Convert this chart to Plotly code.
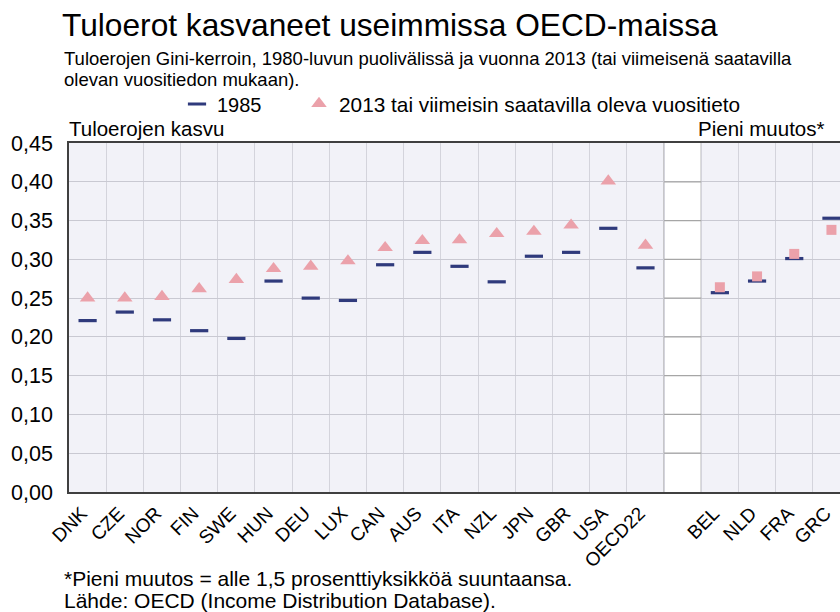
import plotly.graph_objects as go

# ---- data ----
cats_left = ["DNK", "CZE", "NOR", "FIN", "SWE", "HUN", "DEU", "LUX", "CAN",
             "AUS", "ITA", "NZL", "JPN", "GBR", "USA", "OECD22"]
gini_1985_left = [0.221, 0.232, 0.222, 0.208, 0.198, 0.272, 0.250, 0.247, 0.293,
                  0.309, 0.291, 0.271, 0.304, 0.309, 0.340, 0.289]
gini_2013_left = [0.250, 0.250, 0.252, 0.262, 0.274, 0.288, 0.291, 0.298, 0.315,
                  0.324, 0.325, 0.333, 0.336, 0.344, 0.401, 0.318]

gap_cat = " "
cats_right = ["BEL", "NLD", "FRA", "GRC"]
gini_1985_right = [0.257, 0.272, 0.301, 0.353]
gini_2013_right = [0.264, 0.278, 0.307, 0.338]

y_ticks = [0.00, 0.05, 0.10, 0.15, 0.20, 0.25, 0.30, 0.35, 0.40, 0.45]

title_text = "Tuloerot kasvaneet useimmissa OECD-maissa"
subtitle_lines = ["Tuloerojen Gini-kerroin, 1980-luvun puolivälissä ja vuonna 2013 (tai viimeisenä saatavilla",
                  "olevan vuositiedon mukaan)."]
label_left = "Tuloerojen kasvu"
label_right = "Pieni muutos*"
footer_lines = ["*Pieni muutos = alle 1,5 prosenttiyksikköä suuntaansa.",
                "Lähde: OECD (Income Distribution Database)."]
name_1985 = "1985"
name_2013 = "2013 tai viimeisin saatavilla oleva vuositieto"

all_cats = cats_left + [gap_cat] + cats_right

# ---- styles ----
FONT = "Liberation Sans, Arial, sans-serif"
NAVY = "#2F3A7C"
PINK = "#EBA1AA"
BG = "#F2F2F8"
GRID = "#C9C9D2"
DARK = "#404040"

# page body margin is removed (post_script), so figure pixels == page pixels
W, H = 840, 612
L, T = 69, 143
B = H - 492
plot_h = H - T - B
plot_w = W - L

def py(p):  # page pixel y -> paper y
    return (H - B - p) / plot_h

def px(p):  # page pixel x -> paper x
    return (p - L) / plot_w

fig = go.Figure()

fig.add_trace(go.Scatter(
    x=cats_left, y=gini_1985_left, mode="markers", name=name_1985, legend="legend",
    marker=dict(symbol="line-ew", size=13, line=dict(width=3.2, color=NAVY)),
))
fig.add_trace(go.Scatter(
    x=cats_left, y=gini_2013_left, mode="markers", name=name_2013, legend="legend2",
    marker=dict(symbol="triangle-up", size=13.5, color=PINK, line=dict(width=0)),
))
fig.add_trace(go.Scatter(
    x=cats_right, y=gini_1985_right, mode="markers", name=name_1985, showlegend=False,
    marker=dict(symbol="line-ew", size=13, line=dict(width=3.2, color=NAVY)),
))
fig.add_trace(go.Scatter(
    x=cats_right, y=gini_2013_right, mode="markers", name=name_2013, showlegend=False,
    marker=dict(symbol="square", size=10, color=PINK, line=dict(width=0)),
))

gap_idx = all_cats.index(gap_cat)
shapes = [dict(type="rect", xref="x", yref="paper", x0=gap_idx - 0.5, x1=gap_idx + 0.5,
               y0=0, y1=1, fillcolor="white", line=dict(width=0), layer="below")]
for v in y_ticks[1:-1]:
    shapes.append(dict(type="line", xref="x", yref="y", x0=gap_idx - 0.5, x1=gap_idx + 0.5,
                       y0=v, y1=v, line=dict(color="#A6A6A6", width=1.3), layer="between"))
for xv in (gap_idx - 0.5, gap_idx + 0.5):
    shapes.append(dict(type="line", xref="x", yref="paper", x0=xv, x1=xv, y0=0, y1=1,
                       line=dict(color="#A6A6A6", width=1.3), layer="between"))

def note(text, x, y, size, xanchor="left"):
    return dict(text=text, xref="paper", yref="paper", x=px(x), y=py(y),
                xanchor=xanchor, yanchor="middle", align="left", showarrow=False,
                font=dict(size=size, color="black", family=FONT))

annotations = [
    note(subtitle_lines[0], 62, 58, 18.5),
    note(subtitle_lines[1], 62, 80, 18.5),
    note(label_left, 67, 128, 20.5),
    note(label_right, 827, 128, 20.5, xanchor="right"),
    note(footer_lines[0], 62, 578, 21),
    note(footer_lines[1], 62, 600, 21),
]

legend_common = dict(orientation="h", yanchor="middle", xanchor="left",
                     bgcolor="rgba(0,0,0,0)", itemwidth=30, borderwidth=0)

fig.update_layout(
    width=W, height=H,
    margin=dict(l=L, r=0, t=T, b=B, autoexpand=False),
    paper_bgcolor="white", plot_bgcolor=BG,
    separators=", ",
    font=dict(family=FONT, color="black"),
    title=dict(text=title_text, x=62 / W, xref="container", xanchor="left",
               y=1 - 25 / H, yref="container", yanchor="middle",
               pad=dict(l=0, r=0, t=0, b=0),
               font=dict(size=31.7, color="black", family=FONT)),
    showlegend=True,
    legend=dict(x=px(177), y=py(104), font=dict(size=20, color="black", family=FONT),
                **legend_common),
    legend2=dict(x=px(299), y=py(104), font=dict(size=20.8, color="black", family=FONT),
                 **legend_common),
    xaxis=dict(type="category", categoryorder="array", categoryarray=all_cats,
               range=[-0.5, 20.23], tickson="boundaries", showgrid=True,
               gridcolor="#D4D4DC", gridwidth=1, ticks="", tickangle=-45,
               tickfont=dict(size=19, color="black", family=FONT),
               ticklabelstandoff=1, ticklabelshift=-6, automargin=False,
               showline=True, linecolor=DARK, linewidth=1.5, mirror=True,
               zeroline=False, fixedrange=True),
    yaxis=dict(range=[0, 0.45], tickvals=y_ticks, tickformat=".2f",
               showgrid=True, gridcolor=GRID, gridwidth=1.3, ticks="",
               tickfont=dict(size=21.5, color="black", family=FONT),
               ticklabelstandoff=10, automargin=False,
               showline=True, linecolor=DARK, linewidth=1.5, mirror=False,
               zeroline=False, fixedrange=True),
    shapes=shapes,
    annotations=annotations,
)

fig.write_html("out.html",
               config={"displayModeBar": False},
               post_script="document.documentElement.style.overflow='hidden';"
                           "document.body.style.margin='0';"
                           "document.body.style.overflow='hidden';")
